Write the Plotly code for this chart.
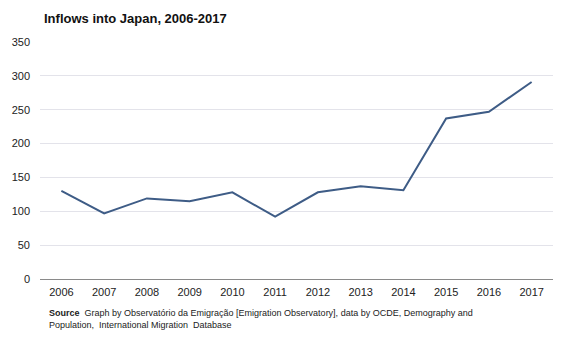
import plotly.graph_objects as go

years = ["2006", "2007", "2008", "2009", "2010", "2011",
         "2012", "2013", "2014", "2015", "2016", "2017"]
inflows = [130, 97, 119, 115, 128, 92, 128, 137, 131, 237, 247, 291]
y_ticks = [0, 50, 100, 150, 200, 250, 300, 350]

FONT = "Liberation Sans, Arial, sans-serif"

fig = go.Figure(
    go.Scatter(
        x=years,
        y=inflows,
        mode="lines",
        line=dict(color="#3e5c86", width=2),
        hoverinfo="x+y",
    )
)

fig.update_layout(
    width=567,
    height=340,
    margin=dict(l=36, r=14, t=42, b=61),
    paper_bgcolor="white",
    plot_bgcolor="white",
    showlegend=False,
    font=dict(family=FONT, size=11, color="#333333"),
    title=dict(
        text="<b>Inflows into Japan, 2006-2017</b>",
        x=44 / 567,
        xanchor="left",
        y=1 - 18 / 340,
        yanchor="middle",
        font=dict(family=FONT, size=13, color="#111111"),
    ),
)

fig.update_xaxes(
    type="category",
    range=[-0.5, len(years) - 0.5],
    showgrid=False,
    showline=True,
    linecolor="#8a8a8a",
    linewidth=1,
    ticks="",
    ticklabelstandoff=3,
    tickfont=dict(size=11, color="#222222"),
    fixedrange=True,
)

fig.update_yaxes(
    range=[0, 350],
    tickvals=y_ticks,
    showgrid=True,
    gridcolor="#e3e3ea",
    gridwidth=1,
    zeroline=False,
    showline=False,
    ticks="",
    ticklabelstandoff=9,
    tickfont=dict(size=11, color="#222222"),
    fixedrange=True,
)

fig.add_annotation(
    text="<b>Source</b>  Graph by Observatório da Emigração [Emigration Observatory], data by OCDE, Demography and"
         "<br>Population,  International Migration  Database",
    xref="paper", yref="paper",
    x=(43 - 36) / 517, y=-(306 - 279) / 237,
    xanchor="left", yanchor="top",
    align="left",
    showarrow=False,
    font=dict(family=FONT, size=9, color="#222222"),
)

fig.write_html("out.html")
